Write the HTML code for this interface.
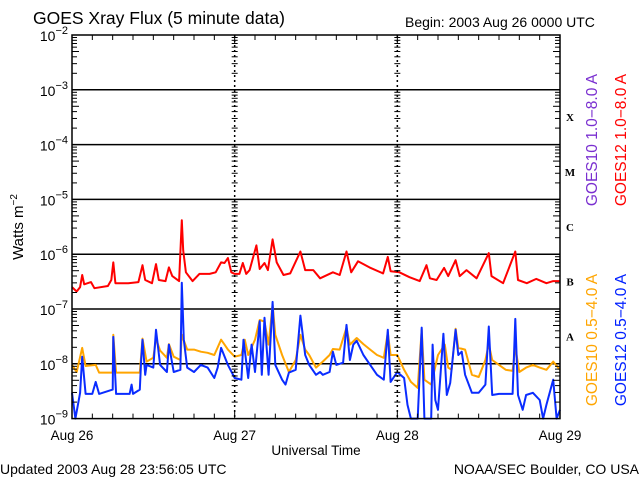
<!DOCTYPE html>
<html><head><meta charset="utf-8">
<style>
body{margin:0;background:#fff;width:640px;height:480px;overflow:hidden}
text{font-family:"Liberation Sans",sans-serif}
</style></head>
<body>
<svg id="chart" width="640" height="480" xmlns="http://www.w3.org/2000/svg">
<text x="33" y="24" font-size="17.5">GOES Xray Flux (5 minute data)</text>
<text x="405" y="27" font-size="14">Begin:  2003 Aug 26 0000 UTC</text>
<text transform="translate(23,227) rotate(-90)" text-anchor="middle" font-size="15">Watts m<tspan dy="-6" font-size="10">−2</tspan></text>
<text x="316" y="455" text-anchor="middle" font-size="13.5">Universal Time</text>
<text x="0" y="474" font-size="14">Updated 2003 Aug 28 23:56:05 UTC</text>
<text x="639" y="474" text-anchor="end" font-size="14">NOAA/SEC Boulder, CO USA</text>
<g id="grid"></g><g id="series"></g><g id="axes"></g>
<text transform="translate(597,140) rotate(-90)" text-anchor="middle" font-size="15.5" fill="#7a2fd0">GOES10 1.0−8.0 A</text>
<text transform="translate(626,140) rotate(-90)" text-anchor="middle" font-size="15.5" fill="#ff0000">GOES12 1.0−8.0 A</text>
<text transform="translate(597,340) rotate(-90)" text-anchor="middle" font-size="15.5" fill="#ffa500">GOES10 0.5−4.0 A</text>
<text transform="translate(626,340) rotate(-90)" text-anchor="middle" font-size="15.5" fill="#0020ff">GOES12 0.5−4.0 A</text>
</svg>
<script>
const dayLabels=["Aug 26","Aug 27","Aug 28","Aug 29"];
const decadeExps=[-2,-3,-4,-5,-6,-7,-8,-9];
const classLabels=["X","M","C","B","A"];
const classExps=[-3.5,-4.5,-5.5,-6.5,-7.5];
const longT=[0,0.7,1.2,1.5,1.8,2.8,3.3,5.3,5.8,6.1,6.4,8.3,9.8,10.4,10.8,11.8,12.4,12.8,13.8,14.3,14.8,15.8,16.2,16.4,16.8,17.8,18.8,20.3,21.2,22,22.5,23,23.5,24,24.7,25.2,25.7,26.2,27.2,27.7,28.4,28.9,29.6,30.2,31.2,32.2,33.7,34.4,35.6,36.6,38.5,39.5,40.5,41.2,42.2,43.9,45.9,46.6,47,48.3,49.8,51.3,52.3,52.8,53.8,54.9,55.5,56.6,57.2,58.2,59.7,61.5,61.9,63.6,65.4,65.8,67.1,68.5,70,71,72];
const longV=[-6.60,-6.68,-6.60,-6.38,-6.55,-6.51,-6.62,-6.58,-6.47,-6.15,-6.53,-6.53,-6.51,-6.20,-6.47,-6.53,-6.18,-6.47,-6.49,-6.24,-6.40,-6.49,-5.38,-5.93,-6.33,-6.49,-6.36,-6.36,-6.33,-6.15,-6.16,-6.07,-6.33,-6.36,-6.36,-6.16,-6.36,-6.29,-5.84,-6.27,-6.16,-6.29,-5.73,-6.15,-6.38,-6.35,-5.95,-6.29,-6.29,-6.44,-6.33,-6.38,-5.95,-6.33,-6.13,-6.24,-6.35,-6.05,-6.31,-6.33,-6.42,-6.49,-6.20,-6.44,-6.47,-6.25,-6.40,-6.11,-6.40,-6.29,-6.44,-5.98,-6.40,-6.53,-5.95,-6.47,-6.53,-6.45,-6.53,-6.49,-6.49];
const s10T=[0,0.7,1.5,2,3.5,4,6,6.1,6.5,10,10.4,11,12,12.4,13,14,14.3,15,16,16.2,17,18,19,20,21,22,22.5,23,24,25,25.5,26,27,27.7,28.4,29,29.6,30,31,32,33,33.7,34.4,35,36,37,38,38.5,39.5,40.5,41,42,43,44,45,46,46.6,47,48,49,50,51,51.6,52,53,54,55,55.5,56,56.6,57,58,59,60,61,61.5,62,63,64,65,65.4,66,67,68,69,70,71,72];
const s10V=[-8.02,-8.15,-7.71,-8.04,-8.02,-8.16,-8.16,-7.47,-8.16,-8.16,-7.54,-7.96,-7.89,-7.54,-7.76,-7.89,-7.64,-7.87,-7.93,-7.47,-7.74,-7.74,-7.78,-7.80,-7.84,-7.56,-7.65,-7.74,-7.87,-7.84,-7.56,-7.84,-7.56,-7.20,-7.23,-7.65,-6.92,-7.47,-7.84,-8.15,-7.93,-7.47,-7.74,-7.84,-8.07,-7.96,-7.84,-7.73,-7.74,-7.34,-7.65,-7.53,-7.64,-7.74,-7.84,-7.89,-7.43,-7.84,-7.84,-8.11,-8.33,-8.44,-7.38,-8.29,-8.38,-7.84,-7.65,-8.07,-8.11,-7.36,-7.71,-7.74,-8.20,-8.24,-7.93,-7.64,-7.93,-8.02,-8.11,-8.13,-7.69,-8.15,-8.07,-8.02,-8.07,-8.11,-7.96,-8.11];
const s12T=[0,0.5,1.2,1.5,2,3,3.5,4,6,6.1,6.5,8.5,8.8,9,10,10.2,10.4,10.8,11,12,12.4,13,14,14.3,15,16,16.2,16.5,17,18,19,20,21,21.5,22,23,24,25,25.3,26,26.5,27,27.7,28,28.4,29,29.6,30,31,31.5,32,33,33.7,34.4,35,36,36.6,37,38,38.5,39,40,40.5,41,41.5,42,43,44,45,46,46.6,47,48,49,49.5,50,51,51.6,52,53,53.2,53.6,54,54.8,55.3,55.8,56.6,57,57.5,58,59,60,61,61.5,62,63,64,65,65.4,65.8,66.5,67,68,69,69.5,70,71,71.5,72];
const s12V=[-8.53,-9.0,-8.53,-7.87,-8.55,-8.55,-8.33,-8.55,-8.47,-7.51,-8.55,-8.55,-8.38,-8.55,-8.47,-7.96,-7.56,-8.20,-8.02,-8.07,-7.38,-8.02,-8.15,-7.65,-8.15,-8.11,-6.52,-7.56,-8.07,-8.15,-8.02,-8.07,-8.26,-8.07,-7.71,-8.02,-8.26,-8.29,-7.56,-8.26,-7.65,-8.15,-7.22,-8.20,-7.16,-8.20,-6.87,-8.02,-8.29,-8.38,-8.16,-8.11,-7.12,-7.84,-8.02,-8.20,-8.15,-8.20,-8.15,-7.78,-8.02,-7.98,-7.29,-7.93,-7.65,-7.58,-7.84,-8.02,-8.20,-8.29,-7.38,-8.33,-8.15,-8.26,-8.75,-9.0,-9.0,-7.34,-9.0,-9.0,-7.65,-8.66,-8.84,-7.45,-8.57,-8.35,-7.38,-7.84,-7.78,-8.20,-8.53,-8.53,-8.38,-7.32,-8.57,-8.55,-8.55,-8.55,-7.18,-8.57,-8.84,-8.57,-8.53,-8.66,-9.0,-8.75,-8.29,-9.0,-8.84];

const X0=72,X1=560,YT=35,YB=418.6;
const NS="http://www.w3.org/2000/svg";
function xs(h){return X0+(X1-X0)*h/72;}
function ys(v){return YT+(YB-YT)*(-2-v)/7;}
function mk(parent,tag,attrs){const e=document.createElementNS(NS,tag);for(const k in attrs)e.setAttribute(k,attrs[k]);parent.appendChild(e);return e;}
const grid=document.getElementById('grid'),axes=document.getElementById('axes'),ser=document.getElementById('series');

decadeExps.forEach(function(d){
  if(d>-3||d<-8)return;
  const l=mk(grid,'line',{x1:X0,x2:X1,y1:ys(d),y2:ys(d),stroke:'#000','stroke-width':1.5});
  
  
});
decadeExps.forEach(function(d){
  const t=mk(axes,'text',{x:X0-4,y:ys(d)+6,'text-anchor':'end','font-size':14});
  
  
  t.innerHTML='10<tspan dy="-7" font-size="11">'+d.toString().replace('-','−')+'</tspan>';
  if(d>-9){
    for(let m=2;m<=9;m++){
      const yy=ys(d-1+Math.log10(m));
      const len=(m==5)?7:5;
      mk(axes,'line',{x1:X0,x2:X0+len,y1:yy,y2:yy,stroke:'#000','stroke-width':1});
      mk(axes,'line',{x1:X1,x2:X1-len,y1:yy,y2:yy,stroke:'#000','stroke-width':1});
      [24,48].forEach(function(h){mk(axes,'line',{x1:xs(h)-3,x2:xs(h)+3,y1:yy,y2:yy,stroke:'#000','stroke-width':1});});
    }
  }
});
[24,48].forEach(function(h){const l=mk(axes,'line',{x1:xs(h),x2:xs(h),y1:YT,y2:YB,stroke:'#000','stroke-width':1.5,'stroke-dasharray':'2,3'});
  
  });
for(let h=3;h<72;h+=3){
  const len=(h%24==0)?8:5;
  mk(axes,'line',{x1:xs(h),x2:xs(h),y1:YT,y2:YT+len,stroke:'#000','stroke-width':1});
  mk(axes,'line',{x1:xs(h),x2:xs(h),y1:YB,y2:YB-len,stroke:'#000','stroke-width':1});
}
const fr=mk(axes,'rect',{x:X0,y:YT,width:X1-X0,height:YB-YT,fill:'none',stroke:'#000','stroke-width':1.5});


dayLabels.forEach(function(lbl,i){
  const t=mk(axes,'text',{x:xs(i*24),y:440,'text-anchor':'middle','font-size':13.5});
  
  
  t.textContent=lbl;
});
classLabels.forEach(function(c,i){
  const t=mk(axes,'text',{x:570,y:ys(classExps[i])+4,'text-anchor':'middle','font-size':11,'font-weight':'bold'});
  t.setAttribute('style','font-family:"Liberation Serif",serif');
  
  
  t.textContent=c;
});
function draw(T,V,color,name){
  const pts=T.map(function(t,i){return xs(t).toFixed(1)+','+ys(V[i]).toFixed(1);}).join(' ');
  const p=mk(ser,'polyline',{points:pts,fill:'none',stroke:color,'stroke-width':2,'stroke-linejoin':'round'});
  
  
}
draw(s10T,s10V,'#ffa500','goes10-short-line');
draw(s12T,s12V,'#0a2cff','goes12-short-line');
draw(longT,longV,'#ff0000','goes12-long-line');
</script>
</body></html>
